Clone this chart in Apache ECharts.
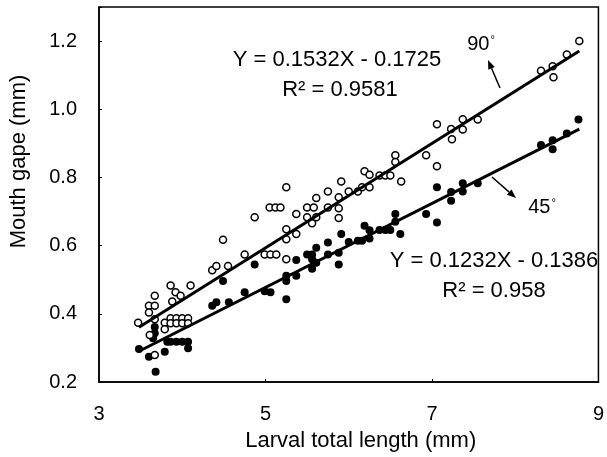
<!DOCTYPE html>
<html>
<head>
<meta charset="utf-8">
<script src="https://cdn.jsdelivr.net/npm/echarts@6/dist/echarts.min.js"></script>
<style>
  html, body { margin: 0; padding: 0; background: #fff; }
  #chart { width: 607px; height: 457px; }
</style>
</head>
<body>
<div id="chart"></div>
<script>
// 90° group (open circles)
var x90 = [3.47, 3.60, 3.60, 3.67, 3.67, 3.61, 3.67, 3.67, 3.79, 3.79, 3.86, 3.88, 3.92, 3.98,
  3.86, 3.93, 4.00, 4.07, 3.86, 3.93, 4.00, 4.07, 4.10, 4.36, 4.41, 4.49, 4.55, 4.75, 4.87,
  4.99, 5.06, 5.13, 5.05, 5.12, 5.18, 5.25, 5.25, 5.25, 5.25, 5.37, 5.37, 5.50, 5.58, 5.50,
  5.56, 5.61, 5.61, 5.75, 5.75, 5.88, 5.88, 5.88, 5.91, 6.00, 6.11, 6.16, 6.19, 6.25, 6.25,
  6.37, 6.44, 6.50, 6.56, 6.56, 6.63, 6.93, 7.06, 7.06, 7.23, 7.24, 7.37, 7.37, 7.55, 8.31,
  8.45, 8.46, 8.62, 8.77];
var y90 = [0.374, 0.424, 0.404, 0.424, 0.453, 0.338, 0.279, 0.384, 0.374, 0.355, 0.483, 0.436, 0.463, 0.453,
  0.387, 0.387, 0.387, 0.387, 0.372, 0.372, 0.372, 0.372, 0.483, 0.528, 0.540, 0.617, 0.540, 0.574, 0.683,
  0.574, 0.574, 0.574, 0.712, 0.712, 0.712, 0.771, 0.648, 0.619, 0.560, 0.693, 0.634, 0.712, 0.712, 0.683,
  0.666, 0.683, 0.740, 0.759, 0.712, 0.742, 0.710, 0.681, 0.788, 0.759, 0.759, 0.771, 0.818, 0.808, 0.771,
  0.806, 0.806, 0.806, 0.865, 0.845, 0.788, 0.865, 0.956, 0.833, 0.942, 0.912, 0.971, 0.941, 0.970, 1.113,
  1.126, 1.094, 1.161, 1.200];

// 45° group (filled circles)
var x45 = [3.48, 3.60, 3.65, 3.67, 3.67, 3.68, 3.79, 3.82, 3.86, 3.93, 4.00, 4.07, 4.07, 4.36,
  4.41, 4.49, 4.56, 4.75, 4.87, 4.99, 5.06, 5.25, 5.25, 5.25, 5.37, 5.37, 5.50, 5.56, 5.56,
  5.56, 5.61, 5.61, 5.75, 5.75, 5.88, 5.88, 5.91, 6.00, 6.11, 6.16, 6.19, 6.25, 6.25, 6.37,
  6.44, 6.50, 6.56, 6.56, 6.62, 6.93, 7.06, 7.06, 7.23, 7.23, 7.37, 7.37, 7.55, 8.31, 8.45,
  8.45, 8.62, 8.76];
var y45 = [0.297, 0.274, 0.328, 0.361, 0.343, 0.230, 0.289, 0.318, 0.318, 0.318, 0.318, 0.318, 0.299, 0.424,
  0.434, 0.496, 0.434, 0.463, 0.545, 0.466, 0.463, 0.443, 0.496, 0.512, 0.512, 0.558, 0.574, 0.574, 0.560,
  0.532, 0.594, 0.550, 0.609, 0.574, 0.545, 0.579, 0.634, 0.611, 0.614, 0.614, 0.658, 0.645, 0.621, 0.646,
  0.646, 0.646, 0.693, 0.670, 0.634, 0.693, 0.771, 0.668, 0.757, 0.732, 0.783, 0.759, 0.783, 0.895, 0.883,
  0.909, 0.929, 0.970];

// fitted lines: Y = aX + b, drawn over the x range of the data
var fit90 = { a: 0.1532, b: -0.1725, from: 3.48, to: 8.77 };
var fit45 = { a: 0.1232, b: -0.1386, from: 3.48, to: 8.77 };

var xTicks = [3, 5, 7, 9];
var yTicks = [0.2, 0.4, 0.6, 0.8, 1.0, 1.2];

function pairs(xs, ys) {
  return xs.map(function (x, i) { return [x, ys[i]]; });
}
function fitLine(f) {
  return [[f.from, f.a * f.from + f.b], [f.to, f.a * f.to + f.b]];
}
// arrow made of a line and a small head
function arrow(x1, y1, x2, y2) {
  var ang = Math.atan2(y2 - y1, x2 - x1);
  var len = 9, half = 3.5;
  var bx = x2 - len * Math.cos(ang), by = y2 - len * Math.sin(ang);
  var px = -Math.sin(ang) * half, py = Math.cos(ang) * half;
  return [{
    type: 'line',
    shape: { x1: x1, y1: y1, x2: bx, y2: by },
    style: { stroke: '#000', lineWidth: 1.5 }
  }, {
    type: 'polygon',
    shape: { points: [[x2, y2], [bx + px, by + py], [bx - px, by - py]] },
    style: { fill: '#000' }
  }];
}
var font = '"Liberation Sans", Arial, sans-serif';
function label(text, x, y, size) {
  return {
    type: 'text', x: x, y: y,
    style: {
      text: text, fill: '#000', fontSize: size, fontFamily: font,
      textAlign: 'center', textVerticalAlign: 'middle',
      rich: {
        d: { fontSize: 11, fontFamily: font, fill: '#000', verticalAlign: 'top', padding: [0, 0, 8, 1] }
      }
    }
  };
}

var chart = echarts.init(document.getElementById('chart'));

chart.setOption({
  animation: false,
  grid: {
    left: 97, right: 6, top: 7, bottom: 75,
    show: true, borderColor: '#000', borderWidth: 1.5
  },
  xAxis: {
    type: 'value', min: xTicks[0], max: xTicks[xTicks.length - 1], interval: 2,
    name: 'Larval total length (mm)', nameLocation: 'middle', nameGap: 48,
    nameTextStyle: { color: '#000', fontSize: 22, fontFamily: font, padding: [0, 0, 0, 24] },
    axisLine: { lineStyle: { color: '#000', width: 1.5 } },
    axisTick: { inside: true, length: 3, lineStyle: { color: '#000' } },
    axisLabel: { color: '#000', fontSize: 20, fontFamily: font, margin: 22 },
    splitLine: { show: false }
  },
  yAxis: {
    type: 'value', min: yTicks[0], max: 1.3, interval: 0.2,
    name: 'Mouth gape (mm)', nameLocation: 'middle', nameGap: 69,
    nameTextStyle: { color: '#000', fontSize: 22, fontFamily: font, padding: [0, 0, 0, 66] },
    axisLine: { lineStyle: { color: '#000', width: 1.5 } },
    axisTick: { inside: true, length: 3, lineStyle: { color: '#000' } },
    axisLabel: {
      color: '#000', fontSize: 20, fontFamily: font, margin: 22,
      formatter: function (v) { return v > 1.25 ? '' : v.toFixed(1); }
    },
    splitLine: { show: false }
  },
  series: [{
    name: '45°', type: 'scatter', data: pairs(x45, y45),
    symbol: 'circle', symbolSize: 8,
    itemStyle: { color: '#000', opacity: 1 }, z: 2
  }, {
    name: '90°', type: 'scatter', data: pairs(x90, y90),
    symbol: 'circle', symbolSize: 7,
    itemStyle: { color: '#fff', borderColor: '#000', borderWidth: 1.5, opacity: 1 }, z: 3
  }, {
    type: 'line', data: fitLine(fit90), symbol: 'none',
    lineStyle: { color: '#000', width: 3 }, z: 4
  }, {
    type: 'line', data: fitLine(fit45), symbol: 'none',
    lineStyle: { color: '#000', width: 3 }, z: 4
  }],
  graphic: [
    label('Y = 0.1532X - 0.1725', 337, 60, 22),
    label('R² = 0.9581', 340, 90, 22),
    label('90{d|°}', 481, 44, 20),
    label('Y = 0.1232X - 0.1386', 494, 261, 22),
    label('R² = 0.958', 494, 291, 22),
    label('45{d|°}', 542, 207, 20)
  ].concat(arrow(500, 88, 488, 60), arrow(492, 177, 516, 198))
});
</script>
</body>
</html>
